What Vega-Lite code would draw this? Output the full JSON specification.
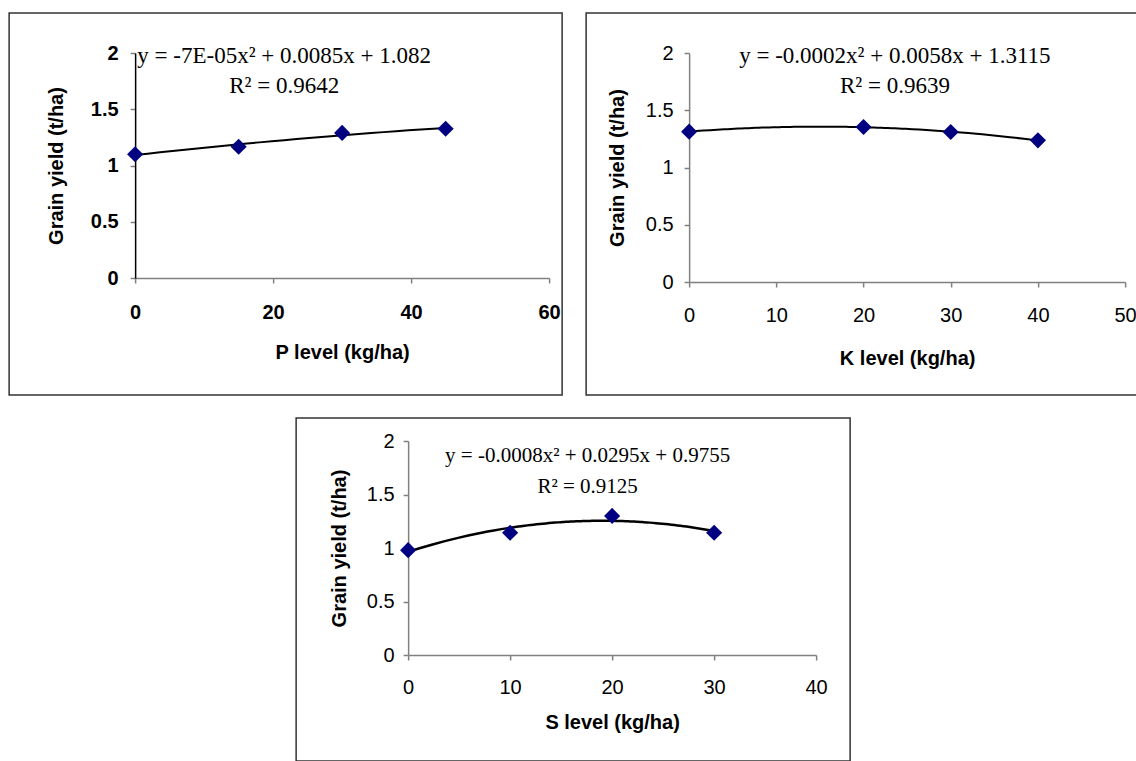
{
  "$schema": "https://vega.github.io/schema/vega-lite/v6.json",
  "background": "white",
  "padding": {"left": 8, "top": 12, "right": 0, "bottom": 0},
  "config": {
    "view": {"stroke": "#333333", "strokeWidth": 1.5},
    "axis": {
      "grid": false,
      "domainColor": "#808080",
      "tickColor": "#808080",
      "domainWidth": 1.5,
      "tickWidth": 1.5,
      "tickSize": 5,
      "labelColor": "black",
      "titleColor": "black",
      "labelFont": "Liberation Sans",
      "titleFont": "Liberation Sans",
      "labelFontSize": 20,
      "titleFontSize": 20,
      "titleFontWeight": "bold",
      "labelFontWeight": "normal",
      "labelFlush": false,
      "labelOverlap": false
    }
  },
  "datasets": {
    "P": [
      {"level": 0, "yield": 1.10},
      {"level": 15, "yield": 1.167},
      {"level": 30, "yield": 1.29},
      {"level": 45, "yield": 1.327}
    ],
    "K": [
      {"level": 0, "yield": 1.313},
      {"level": 20, "yield": 1.354},
      {"level": 30, "yield": 1.31},
      {"level": 40, "yield": 1.237}
    ],
    "S": [
      {"level": 0, "yield": 0.98},
      {"level": 10, "yield": 1.143},
      {"level": 20, "yield": 1.30},
      {"level": 30, "yield": 1.143}
    ],
    "Ptext": [
      {"level": 21.6, "yield": 1.973, "label": "y = -7E-05x² + 0.0085x + 1.082"},
      {"level": 21.6, "yield": 1.707, "label": "R² = 0.9642"}
    ],
    "Ktext": [
      {"level": 23.6, "yield": 1.97, "label": "y = -0.0002x² + 0.0058x + 1.3115"},
      {"level": 23.6, "yield": 1.71, "label": "R² = 0.9639"}
    ],
    "Stext": [
      {"level": 17.6, "yield": 1.86, "label": "y = -0.0008x² + 0.0295x + 0.9755"},
      {"level": 17.6, "yield": 1.57, "label": "R² = 0.9125"}
    ]
  },
  "spacing": 21,
  "center": true,
  "vconcat": [
    {
      "spacing": 22,
      "hconcat": [
        {
          "width": 553,
          "height": 382,
          "encoding": {
            "x": {
              "field": "level", "type": "quantitative",
              "scale": {"domain": [0, 60], "range": [126, 540], "nice": false, "zero": false},
              "axis": {"title": "P level (kg/ha)", "values": [0, 20, 40, 60], "format": "d", "offset": -117,
                       "labelFontWeight": "bold", "labelPadding": 19, "titlePadding": 20}
            },
            "y": {
              "field": "yield", "type": "quantitative",
              "scale": {"domain": [0, 2], "range": [265, 40], "nice": false, "zero": false},
              "axis": {"title": "Grain yield (t/ha)", "values": [0, 0.5, 1, 1.5, 2], "format": ".1~f", "offset": -126,
                       "labelFontWeight": "bold", "labelPadding": 12, "titlePadding": 24,
                       "domainColor": "#000000"}
            }
          },
          "layer": [
            {
              "data": {"name": "P"},
              "transform": [{"regression": "yield", "on": "level", "method": "poly", "order": 2}],
              "mark": {"type": "line", "color": "black", "strokeWidth": 2}
            },
            {
              "data": {"name": "P"},
              "mark": {"type": "point", "shape": "diamond", "filled": true, "color": "#000080", "size": 260, "opacity": 1}
            },
            {
              "data": {"name": "Ptext"},
              "mark": {"type": "text", "font": "Liberation Serif", "fontSize": 23, "color": "black"},
              "encoding": {"text": {"field": "label"}}
            }
          ]
        },
        {
          "width": 551,
          "height": 382,
          "encoding": {
            "x": {
              "field": "level", "type": "quantitative",
              "scale": {"domain": [0, 50], "range": [103, 539], "nice": false, "zero": false},
              "axis": {"title": "K level (kg/ha)", "values": [0, 10, 20, 30, 40, 50], "format": "d", "offset": -113,
                       "labelPadding": 18, "titlePadding": 23}
            },
            "y": {
              "field": "yield", "type": "quantitative",
              "scale": {"domain": [0, 2], "range": [269, 40], "nice": false, "zero": false},
              "axis": {"title": "Grain yield (t/ha)", "values": [0, 0.5, 1, 1.5, 2], "format": ".1~f", "offset": -103,
                       "labelPadding": 11, "titlePadding": 18}
            }
          },
          "layer": [
            {
              "data": {"name": "K"},
              "transform": [{"regression": "yield", "on": "level", "method": "poly", "order": 2}],
              "mark": {"type": "line", "color": "black", "strokeWidth": 2}
            },
            {
              "data": {"name": "K"},
              "mark": {"type": "point", "shape": "diamond", "filled": true, "color": "#000080", "size": 260, "opacity": 1}
            },
            {
              "data": {"name": "Ktext"},
              "mark": {"type": "text", "font": "Liberation Serif", "fontSize": 23, "color": "black"},
              "encoding": {"text": {"field": "label"}}
            }
          ]
        }
      ]
    },
    {
      "width": 554,
      "height": 343,
      "encoding": {
        "x": {
          "field": "level", "type": "quantitative",
          "scale": {"domain": [0, 40], "range": [112, 520], "nice": false, "zero": false},
          "axis": {"title": "S level (kg/ha)", "values": [0, 10, 20, 30, 40], "format": "d", "offset": -106,
                   "labelPadding": 17, "titlePadding": 15}
        },
        "y": {
          "field": "yield", "type": "quantitative",
          "scale": {"domain": [0, 2], "range": [237, 23], "nice": false, "zero": false},
          "axis": {"title": "Grain yield (t/ha)", "values": [0, 0.5, 1, 1.5, 2], "format": ".1~f", "offset": -112,
                   "labelPadding": 9, "titlePadding": 17}
        }
      },
      "layer": [
        {
          "data": {"name": "S"},
          "transform": [{"regression": "yield", "on": "level", "method": "poly", "order": 2}],
          "mark": {"type": "line", "color": "black", "strokeWidth": 2.5}
        },
        {
          "data": {"name": "S"},
          "mark": {"type": "point", "shape": "diamond", "filled": true, "color": "#000080", "size": 260, "opacity": 1}
        },
        {
          "data": {"name": "Stext"},
          "mark": {"type": "text", "font": "Liberation Serif", "fontSize": 21, "color": "black"},
          "encoding": {"text": {"field": "label"}}
        }
      ]
    }
  ]
}
